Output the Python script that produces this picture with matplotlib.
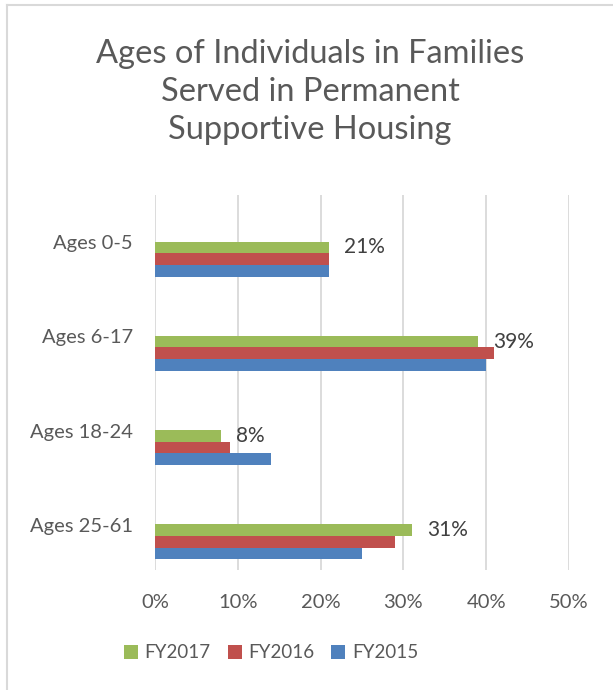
import matplotlib.pyplot as plt
from matplotlib.lines import Line2D
import numpy as np

plt.rcParams['font.family'] = ['Lato', 'DejaVu Sans']

categories = ["Ages 0-5", "Ages 6-17", "Ages 18-24", "Ages 25-61"]
fy2017 = [0.21, 0.39, 0.08, 0.31]
fy2016 = [0.21, 0.41, 0.09, 0.29]
fy2015 = [0.21, 0.40, 0.14, 0.25]
labels_2017 = ["21%", "39%", "8%", "31%"]
xticks = [0, 0.1, 0.2, 0.3, 0.4, 0.5]
xtick_labels = ["0%", "10%", "20%", "30%", "40%", "50%"]

W, H = 613, 690
fig = plt.figure(figsize=(W / 100, H / 100), dpi=100)
ax = fig.add_axes([155 / W, 120 / H, 414 / W, 375 / H])

y = np.arange(len(categories))
h = 0.124
ax.barh(y - h, fy2017, height=h, color="#9BBB59", label="FY2017")
ax.barh(y, fy2016, height=h, color="#C0504D", label="FY2016")
ax.barh(y + h, fy2015, height=h, color="#4F81BD", label="FY2015")

# data labels for FY2017
for yi, v, lab in zip(y, fy2017, labels_2017):
    ax.annotate(lab, (v, yi - h), xytext=(15, 0), textcoords="offset pixels",
                ha="left", va="center", fontsize=15, color="#404040")

ax.set_xlim(0, 0.5)
ax.set_ylim(3.30, -0.68)
ax.set_xticks(xticks)
ax.set_xticklabels(xtick_labels, fontsize=14.5, color="#595959")
# category ticks sit at the band centre, a bit above the bar groups
ax.set_yticks(y - 0.18)
ax.set_yticklabels(categories, fontsize=14.5, color="#595959")
ax.tick_params(axis="both", length=0)
ax.tick_params(axis="x", pad=17)
ax.tick_params(axis="y", pad=16)
ax.xaxis.grid(True, color="#D9D9D9", linewidth=1.3)
ax.set_axisbelow(True)
for s in ax.spines.values():
    s.set_visible(False)

fig.text(310 / W, 1 - 92 / H, "Ages of Individuals in Families\nServed in Permanent\nSupportive Housing",
         ha="center", va="center", fontsize=23.5, color="#595959", linespacing=1.33)

leg = fig.legend(loc="center", bbox_to_anchor=(271 / W, 1 - 653 / H), ncol=3, frameon=False,
                 fontsize=13.5, handlelength=0.75, handleheight=0.75, handletextpad=0.35,
                 columnspacing=0.9)
for t in leg.get_texts():
    t.set_color("#595959")

# chart border (top and left visible)
fig.add_artist(Line2D([7 / W, 1], [1 - 5 / H, 1 - 5 / H], color="#D9D9D9", linewidth=1.5))
fig.add_artist(Line2D([7 / W, 7 / W], [0, 1 - 5 / H], color="#D9D9D9", linewidth=1.5))

fig.savefig("out.png", dpi=100)
